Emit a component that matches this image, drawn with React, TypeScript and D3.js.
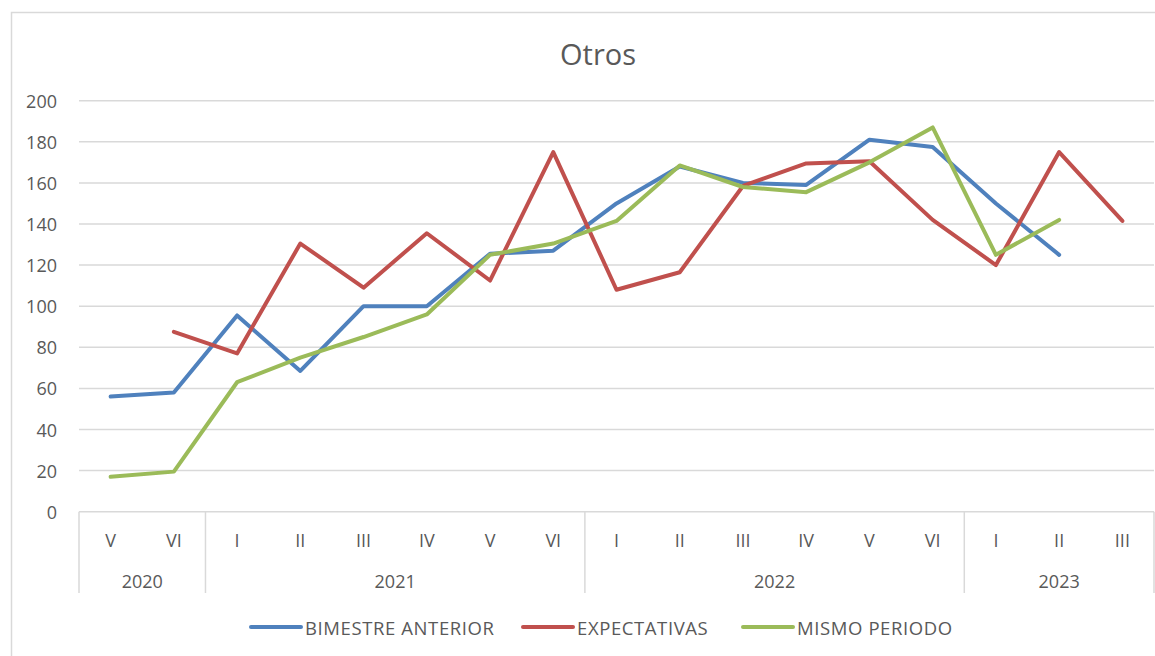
import * as d3 from 'd3';

const periods = ['V', 'VI', 'I', 'II', 'III', 'IV', 'V', 'VI', 'I', 'II', 'III', 'IV', 'V', 'VI', 'I', 'II', 'III'];
const years = ['2020', '2021', '2022', '2023'];
const yearCounts = [2, 6, 6, 3];
const yTicks = [0, 20, 40, 60, 80, 100, 120, 140, 160, 180, 200];

const bimestreAnterior = [56, 58, 95.5, 68.5, 100, 100, 125.5, 127, 150, 168, 160, 159, 181, 177.5, 150, 125, null];
const expectativas = [null, 87.5, 77, 130.5, 109, 135.5, 112.5, 175, 108, 116.5, 158.5, 169.5, 170.5, 142, 120, 175, 141.5];
const mismoPeriodo = [17, 19.5, 63, 75, 85, 96, 125, 130.5, 141.5, 168.5, 158, 155.5, 170, 187, 125, 142, null];

const seriesNames = ['BIMESTRE ANTERIOR', 'EXPECTATIVAS', 'MISMO PERIODO'];
const seriesColors = ['#4F81BD', '#C0504D', '#9BBB59'];

const W = 1155;
const H = 656;
const font = '"Open Sans", sans-serif';
const textColor = '#595959';
const gridColor = '#D9D9D9';

const App = () => {
  const x = d3.scaleBand<number>()
    .domain(periods.map((_, i) => i))
    .range([79, 1154]);
  const y = d3.scaleLinear().domain([0, 200]).range([511.7, 100.7]);
  const cx = (i: number) => (x(i) as number) + x.bandwidth() / 2;

  const line = d3.line<number | null>()
    .defined((d) => d !== null)
    .x((_, i) => cx(i))
    .y((d) => y(d as number));

  const allSeries = [bimestreAnterior, expectativas, mismoPeriodo];

  // year group boundaries
  const bounds: number[] = [0];
  yearCounts.forEach((c) => bounds.push(bounds[bounds.length - 1] + c));
  const edge = (i: number) => (i < periods.length ? (x(i) as number) : x.range()[1]);

  const axisBottom = 593;
  const legendX = [251, 523, 743];
  const legendY = 627;

  return (
    <svg width={W} height={H} style={{ position: 'absolute', left: 0, top: 0, background: '#fff' }}
      fontFamily={font}>
      <rect x={11.5} y={12.5} width={W + 20} height={H + 20} fill="#fff" stroke={gridColor} strokeWidth={1.5} />

      <text x={598} y={53} textAnchor="middle" dominantBaseline="central" fontSize={29} fill={textColor}>Otros</text>

      {yTicks.map((t) => (
        <g key={t}>
          {t > 0 && (
            <line x1={x.range()[0]} x2={x.range()[1]} y1={y(t)} y2={y(t)} stroke={gridColor} strokeWidth={1.5} />
          )}
          <text x={57} y={y(t)} textAnchor="end" dominantBaseline="central" fontSize={18} fill={textColor}>{t}</text>
        </g>
      ))}

      {/* category axis */}
      <line x1={x.range()[0]} x2={x.range()[1]} y1={y(0)} y2={y(0)} stroke={gridColor} strokeWidth={1.5} />
      {bounds.map((b, i) => (
        <line key={i} x1={edge(b)} x2={edge(b)} y1={y(0)} y2={axisBottom} stroke={gridColor} strokeWidth={1.5} />
      ))}
      {periods.map((p, i) => (
        <text key={i} x={cx(i)} y={540} textAnchor="middle" dominantBaseline="central" fontSize={18} fill={textColor}>{p}</text>
      ))}
      {years.map((yr, i) => (
        <text key={yr} x={(edge(bounds[i]) + edge(bounds[i + 1])) / 2} y={581} textAnchor="middle"
          dominantBaseline="central" fontSize={18} fill={textColor}>{yr}</text>
      ))}

      {allSeries.map((s, i) => (
        <path key={i} d={line(s) || ''} fill="none" stroke={seriesColors[i]} strokeWidth={4}
          strokeLinecap="round" strokeLinejoin="round" />
      ))}

      {seriesNames.map((n, i) => (
        <g key={n} transform={`translate(${legendX[i]},${legendY})`}>
          <line x1={0} x2={50} y1={0} y2={0} stroke={seriesColors[i]} strokeWidth={4} strokeLinecap="round" />
          <text x={54} y={0} dominantBaseline="central" fontSize={18.5} letterSpacing={0.6} fill={textColor}>{n}</text>
        </g>
      ))}
    </svg>
  );
};

export default App;
